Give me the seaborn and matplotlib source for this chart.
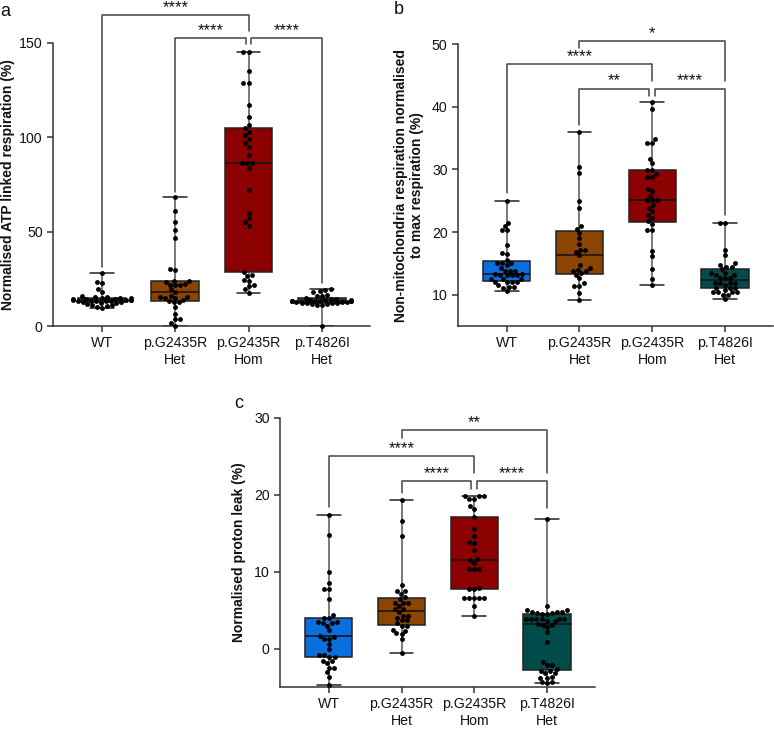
import matplotlib
matplotlib.use("Agg")
import matplotlib.pyplot as plt
import seaborn as sns
import pandas as pd

sns.set_theme(style="ticks")
plt.rcParams['font.family'] = ['Liberation Sans', 'DejaVu Sans']

groups = ["WT", "p.G2435R\nHet", "p.G2435R\nHom", "p.T4826I\nHet"]
colors = ["#0a6fdc", "#8b4500", "#8b0000", "#004c4a"]

# Panel a: Normalised ATP linked respiration (%)
atp_wt = [28, 23.5, 23, 19.5, 18, 16, 15.5, 15.5, 15, 15, 15, 14.5, 14.5, 14.5, 14, 14, 14,
          14, 13.5, 13.5, 13.5, 13, 13, 12.5, 12.5, 12, 12, 11.5, 11, 11, 10.5, 10, 9.5]
atp_het = [68.5, 61, 55, 51, 46.5, 30, 29.5, 24, 24, 23.5, 22.5, 22, 22, 21.5, 19.5,
           18, 16, 15.5, 15.5, 15, 15, 14, 13.5, 12.5, 12.5, 10, 6.5, 3.5, 3.5, 1.5, 0]
atp_hom = [145, 145, 135, 129, 129, 117, 111, 106.5, 105, 103, 101, 99, 97, 95, 90.5, 86.5,
           86.5, 86.5, 84, 72, 60, 57, 55, 53, 28.5, 27, 26.5, 24.5, 24, 21.5, 21, 19.5, 17.5]
atp_t = [19.5, 19, 18.5, 18, 16.5, 16, 16, 15, 14.5, 14.5, 14, 14, 14, 13.5, 13.5, 13.5, 13,
         13, 13, 13, 12.5, 12.5, 12.5, 12, 12, 12, 12, 11.5, 11.5, 11, 11, 0]

# Panel b: Non-mitochondria respiration normalised to max respiration (%)
nm_wt = [25, 21.5, 21, 20.3, 20.3, 18, 16.7, 16.5, 15.5, 15.1, 15.1, 15.1, 14.7, 14.3, 13.8,
         13.8, 13.8, 13.3, 13.3, 13.1, 13.1, 13.1, 13.1, 12.5, 12.5, 12.5, 12.0, 12.0, 12.0,
         12.0, 11.5, 11.3, 11.3, 11.1, 10.6]
nm_het = [36, 30.3, 29.4, 24.9, 23.9, 21, 20.5, 19.8, 19, 18.1, 17.2, 17.1, 16.8, 16.3, 14.7,
          14.2, 14, 13.8, 13.8, 13.4, 13.2, 12.6, 11.8, 11.4, 11.4, 10.3, 9.1]
nm_hom = [40.7, 39.6, 34.8, 34.2, 34.2, 31.7, 31.0, 29.9, 29.9, 29.2, 28.7, 28.7, 26.8, 26.5,
          25.8, 25.1, 25.1, 25.1, 24.3, 23.9, 23.3, 22.7, 22.2, 21.7, 21.2, 20.3, 20.3, 17.0,
          16.1, 14.1, 12.5, 11.6]
nm_t = [21.4, 21.4, 17.1, 16.3, 15.0, 14.8, 14.4, 14.4, 14.1, 13.5, 13.5, 13.2, 13.2,
        12.7, 12.7, 12.7, 11.9, 11.9, 11.9, 11.9, 11.6, 11.1, 11.1, 11.1, 10.8, 10.4, 10.4,
        10.4, 10.4, 10.0, 10.0, 9.3]

# Panel c: Normalised proton leak (%)
pl_wt = [17.4, 14.8, 10.0, 8.5, 7.8, 7.8, 6.5, 4.4, 4.0, 4.0, 3.4, 3.4, 3.3, 3.3, 3.0, 2.4,
         1.7, 1.5, 1.3, 1.3, 0.6, -0.1, -0.9, -0.9, -1.1, -1.1, -1.6, -1.6, -1.9, -2.5, -2.5,
         -3.1, -3.7, -4.7]
pl_het = [19.3, 16.6, 14.6, 8.3, 7.5, 7.5, 7.1, 6.7, 6.4, 5.9, 5.9, 5.9, 5.5, 5.1, 5.1, 4.7,
          4.3, 4.3, 3.95, 3.7, 3.7, 3.3, 2.95, 2.95, 2.4, 2.3, 2.0, 1.9, 1.2, -0.6]
pl_hom = [19.8, 19.8, 19.8, 19.5, 19.5, 18.5, 18.1, 17.1, 15.6, 14.7, 13.9, 13.7, 12.8, 11.6,
          11.5, 11.1, 10.3, 10.3, 10.3, 7.9, 7.7, 7.7, 6.6, 6.6, 6.6, 6.6, 6.6, 5.6, 4.3]
pl_t = [16.9, 5.5, 5.0, 5.0, 4.8, 4.7, 4.7, 4.6, 4.6, 4.5, 4.5, 3.9, 3.9, 3.9, 3.9, 3.8, 3.8,
        3.6, 3.6, 3.2, 3.1, 3.1, 2.8, 2.1, 0.9, -1.7, -2.1, -2.1, -2.6, -2.9, -2.9, -3.2, -3.2,
        -3.7, -3.8, -3.8, -4.4, -4.4, -4.5]

ylabel_a = "Normalised ATP linked respiration (%)"
ylabel_b = "Non-mitochondria respiration normalised\nto max respiration (%)"
ylabel_c = "Normalised proton leak (%)"

LINE = "#333333"


def make_df(lists):
    rows = []
    for g, vals in zip(groups, lists):
        rows += [(g, v) for v in vals]
    return pd.DataFrame(rows, columns=["group", "value"])


def draw(ax, df, ylim, yticks, ylabel, label_x):
    sns.boxplot(data=df, x="group", y="value", hue="group", order=groups, hue_order=groups,
                palette=colors, width=0.65, whis=(0, 100), showfliers=False, linewidth=1.1,
                linecolor="#222222", legend=False, saturation=1, ax=ax,
                whiskerprops=dict(color="#555555", linewidth=1.1),
                capprops=dict(color="#222222", linewidth=1.1),
                medianprops=dict(color="#111111", linewidth=1.1))
    sns.swarmplot(data=df, x="group", y="value", order=groups, color="black", size=3.5,
                  ax=ax, clip_on=False, zorder=4)
    ax.set_xlim(-0.67, 3.66)
    ax.set_ylim(*ylim)
    ax.set_yticks(yticks)
    ax.set_xlabel("")
    ax.set_ylabel(ylabel, fontsize=10, fontweight="bold", color="#111111")
    ax.yaxis.set_label_coords(label_x, 0.5)
    for s in ["top", "right"]:
        ax.spines[s].set_visible(False)
    for s in ["left", "bottom"]:
        ax.spines[s].set_color(LINE)
        ax.spines[s].set_linewidth(1.1)
    ax.tick_params(axis="both", colors=LINE, labelcolor="#111111", labelsize=10.2,
                   length=4.5, width=1.1, pad=3)


def bracket(ax, x1, x2, y, y1end, y2end, text, tx=None):
    ax.plot([x1, x1, x2, x2], [y1end, y, y, y2end], color="#444444", lw=1.1,
            clip_on=False, zorder=5)
    if tx is None:
        tx = (x1 + x2) / 2
    ax.text(tx, y, text, ha="center", va="bottom", fontsize=12, color="#111111",
            clip_on=False)


fig = plt.figure(figsize=(7.74, 7.30), dpi=100)
ax_a = fig.add_axes([0.0685, 0.5534, 0.4096, 0.3877])
ax_b = fig.add_axes([0.5917, 0.5534, 0.4070, 0.3863])
ax_c = fig.add_axes([0.3618, 0.0589, 0.4070, 0.3685])

draw(ax_a, make_df([atp_wt, atp_het, atp_hom, atp_t]), (0, 150), [0, 50, 100, 150],
     ylabel_a, -0.12)
draw(ax_b, make_df([nm_wt, nm_het, nm_hom, nm_t]), (5, 50), [10, 20, 30, 40, 50],
     ylabel_b, -0.108)
draw(ax_c, make_df([pl_wt, pl_het, pl_hom, pl_t]), (-5, 30), [0, 10, 20, 30],
     ylabel_c, -0.108)

d = 0.04
# panel a brackets
bracket(ax_a, 0, 2, 165, 31.5, 156.5, "****")
bracket(ax_a, 1, 2 - d, 152.6, 71, 149.4, "****")
bracket(ax_a, 2 + d, 3, 152.6, 149.4, 23, "****")
# panel b brackets
bracket(ax_b, 1, 3, 50.5, 49.3, 44.1, "*")
bracket(ax_b, 0, 2, 46.8, 26.2, 44.1, "****", tx=1.0)
bracket(ax_b, 1, 2 - d, 42.9, 37.0, 41.7, "**")
bracket(ax_b, 2 + d, 3, 42.9, 41.7, 22.7, "****")
# panel c brackets
bracket(ax_c, 1, 3, 28.4, 27.4, 22.8, "**")
bracket(ax_c, 0, 2, 25.1, 18.4, 22.8, "****", tx=1.0)
bracket(ax_c, 1, 2 - d, 21.8, 20.25, 20.7, "****")
bracket(ax_c, 2 + d, 3, 21.8, 20.7, 18.3, "****")

fig.text(5 / 774, 1 - 11 / 730, "a", fontsize=13, ha="center", va="center", color="#111111")
fig.text(399 / 774, 1 - 10 / 730, "b", fontsize=13, ha="center", va="center", color="#111111")
fig.text(239 / 774, 1 - 404 / 730, "c", fontsize=13, ha="center", va="center", color="#111111")

fig.savefig("out.png", dpi=100)
